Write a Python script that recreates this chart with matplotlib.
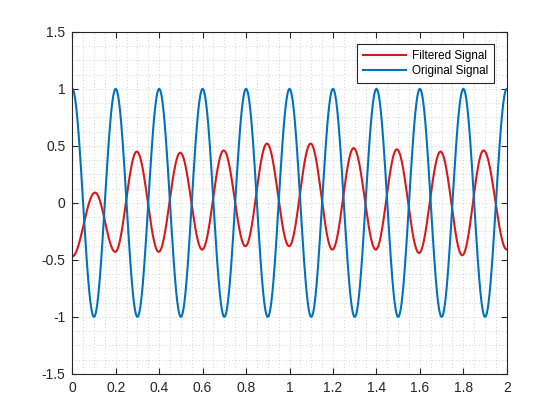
import numpy as np
import matplotlib
matplotlib.use('Agg')
import matplotlib.pyplot as plt
from matplotlib.ticker import MultipleLocator, FormatStrFormatter

plt.rcParams['font.family'] = ['Liberation Sans', 'DejaVu Sans']

# extrema (time, value)
filt_t = [0.0, 0.105, 0.198, 0.297, 0.398, 0.497, 0.598, 0.697, 0.797, 0.896,
          0.998, 1.097, 1.197, 1.295, 1.397, 1.494, 1.596, 1.695, 1.795,
          1.893, 2.0]
filt_v = [-0.47, 0.09, -0.43, 0.45, -0.43, 0.44, -0.41, 0.46, -0.38, 0.52,
          -0.38, 0.52, -0.41, 0.48, -0.41, 0.47, -0.44, 0.45, -0.46, 0.46,
          -0.41]
orig_t = [0.0, 0.1, 0.2, 0.3, 0.4, 0.5, 0.6, 0.7, 0.8, 0.9, 1.0, 1.1, 1.2,
          1.3, 1.4, 1.5, 1.6, 1.7, 1.8, 1.9, 2.0]
orig_v = [1, -1, 1, -1, 1, -1, 1, -1, 1, -1, 1, -1, 1, -1, 1, -1, 1, -1, 1,
          -1, 1]

x_ticks = [0, 0.2, 0.4, 0.6, 0.8, 1, 1.2, 1.4, 1.6, 1.8, 2]
y_ticks = [-1.5, -1, -0.5, 0, 0.5, 1, 1.5]


def smooth_between_extrema(ts, vs, n=60):
    # half-cosine segments joining successive turning points
    xs, ys = [], []
    for t0, t1, v0, v1 in zip(ts[:-1], ts[1:], vs[:-1], vs[1:]):
        s = np.linspace(0, 1, n, endpoint=False)
        xs.append(t0 + s * (t1 - t0))
        ys.append(v0 + (v1 - v0) * (1 - np.cos(np.pi * s)) / 2)
    xs.append([ts[-1]])
    ys.append([vs[-1]])
    return np.concatenate(xs), np.concatenate(ys)


fig = plt.figure(figsize=(5.6, 4.2), dpi=100)
ax = fig.add_axes([0.129, 0.11, 0.776, 0.814])

fx, fy = smooth_between_extrema(filt_t, filt_v)
ox, oy = smooth_between_extrema(orig_t, orig_v)
ax.plot(fx, fy, color='#d7191c', lw=1.5, label='Filtered Signal')
ax.plot(ox, oy, color='#0072bd', lw=1.5, label='Original Signal')

ax.set_xlim(0, 2)
ax.set_ylim(-1.5, 1.5)
ax.set_xticks(x_ticks)
ax.set_yticks(y_ticks)
ax.xaxis.set_major_formatter(FormatStrFormatter('%g'))
ax.yaxis.set_major_formatter(FormatStrFormatter('%g'))
ax.xaxis.set_minor_locator(MultipleLocator(0.05))
ax.yaxis.set_minor_locator(MultipleLocator(0.125))

ax.grid(which='both', color='#c4c4c4', linestyle=(0, (1, 3)), linewidth=0.6)
ax.set_axisbelow(True)
ax.tick_params(which='major', direction='in', length=4, width=0.8,
               top=True, right=True, labelsize=10, colors='#262626', pad=5)
ax.tick_params(which='minor', length=0)
for sp in ax.spines.values():
    sp.set_color('#262626')
    sp.set_linewidth(0.8)

leg = ax.legend(loc='upper right', bbox_to_anchor=(0.970, 0.965),
                borderaxespad=0, fancybox=False, framealpha=1,
                edgecolor='#262626', fontsize=8.5, handlelength=3.6,
                borderpad=0.5, labelspacing=0.3, handletextpad=0.5)
leg.get_frame().set_linewidth(0.8)

fig.savefig('out.png', dpi=100)
